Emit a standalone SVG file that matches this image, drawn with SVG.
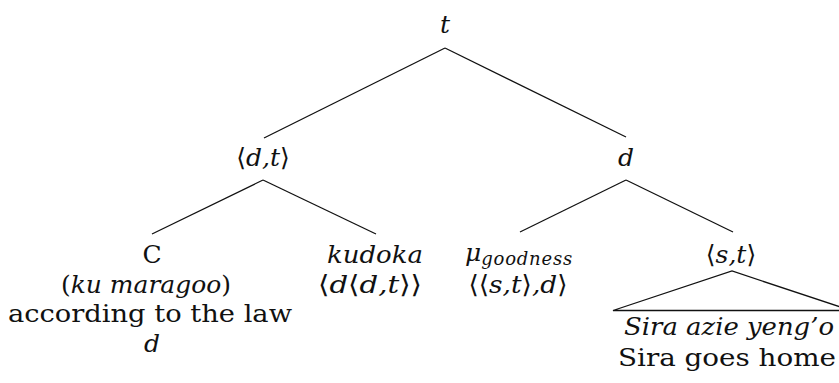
<svg xmlns="http://www.w3.org/2000/svg" width="839" height="383" viewBox="0 0 839 383">
<style>
text{font-family:"DejaVu Serif","Liberation Serif",serif;font-size:25px;fill:#111;text-anchor:middle}
.i{font-style:italic}
.u{font-style:normal}
.sub{font-size:18px;font-style:italic;letter-spacing:0.8px}
.e{stroke:#111;stroke-width:1.3;fill:none}
</style>
<rect width="839" height="383" fill="#fff"/>
<g id="connectors">
<line class="e" x1="445" y1="48" x2="264" y2="138"/>
<line class="e" x1="445" y1="48" x2="626" y2="137"/>
<line class="e" x1="263" y1="180" x2="152" y2="234"/>
<line class="e" x1="263" y1="180" x2="376" y2="234"/>
<line class="e" x1="626" y1="180" x2="520" y2="232"/>
<line class="e" x1="626" y1="180" x2="733" y2="232"/>
<path class="e" d="M613,310.5 L732,271 L851,310.5 Z"/>
</g>
<g id="n-t"><text class="i" x="445" y="33">t</text></g>
<g id="n-dt"><text class="i" x="263" y="166"><tspan class="u">⟨</tspan>d,t<tspan class="u">⟩</tspan></text></g>
<g id="n-d"><text class="i" x="626" y="166">d</text></g>
<g id="n-C">
<text x="152" y="263">C</text>
<text x="146" y="293" textLength="170" lengthAdjust="spacingAndGlyphs">(<tspan class="i">ku maragoo</tspan>)</text>
<text x="150" y="322" textLength="284" lengthAdjust="spacingAndGlyphs">according to the law</text>
<text class="i" x="152" y="352">d</text>
</g>
<g id="n-kudoka">
<text class="i" x="375" y="263" textLength="96" lengthAdjust="spacingAndGlyphs">kudoka</text>
<text class="i" x="370" y="293" textLength="104" lengthAdjust="spacingAndGlyphs"><tspan class="u">⟨</tspan>d<tspan class="u">⟨</tspan>d,t<tspan class="u">⟩⟩</tspan></text>
</g>
<g id="n-mu">
<text class="i" x="519" y="261">μ<tspan class="sub" dy="4">goodness</tspan></text>
<text class="i" x="518" y="293" textLength="99" lengthAdjust="spacingAndGlyphs"><tspan class="u">⟨⟨</tspan>s,t<tspan class="u">⟩</tspan>,d<tspan class="u">⟩</tspan></text>
</g>
<g id="n-st">
<text class="i" x="731" y="263"><tspan class="u">⟨</tspan>s,t<tspan class="u">⟩</tspan></text>
<text class="i" x="729" y="335" textLength="210" lengthAdjust="spacingAndGlyphs">Sira azie yeng’o</text>
<text x="727" y="366" textLength="218" lengthAdjust="spacingAndGlyphs">Sira goes home</text>
</g>
</svg>
